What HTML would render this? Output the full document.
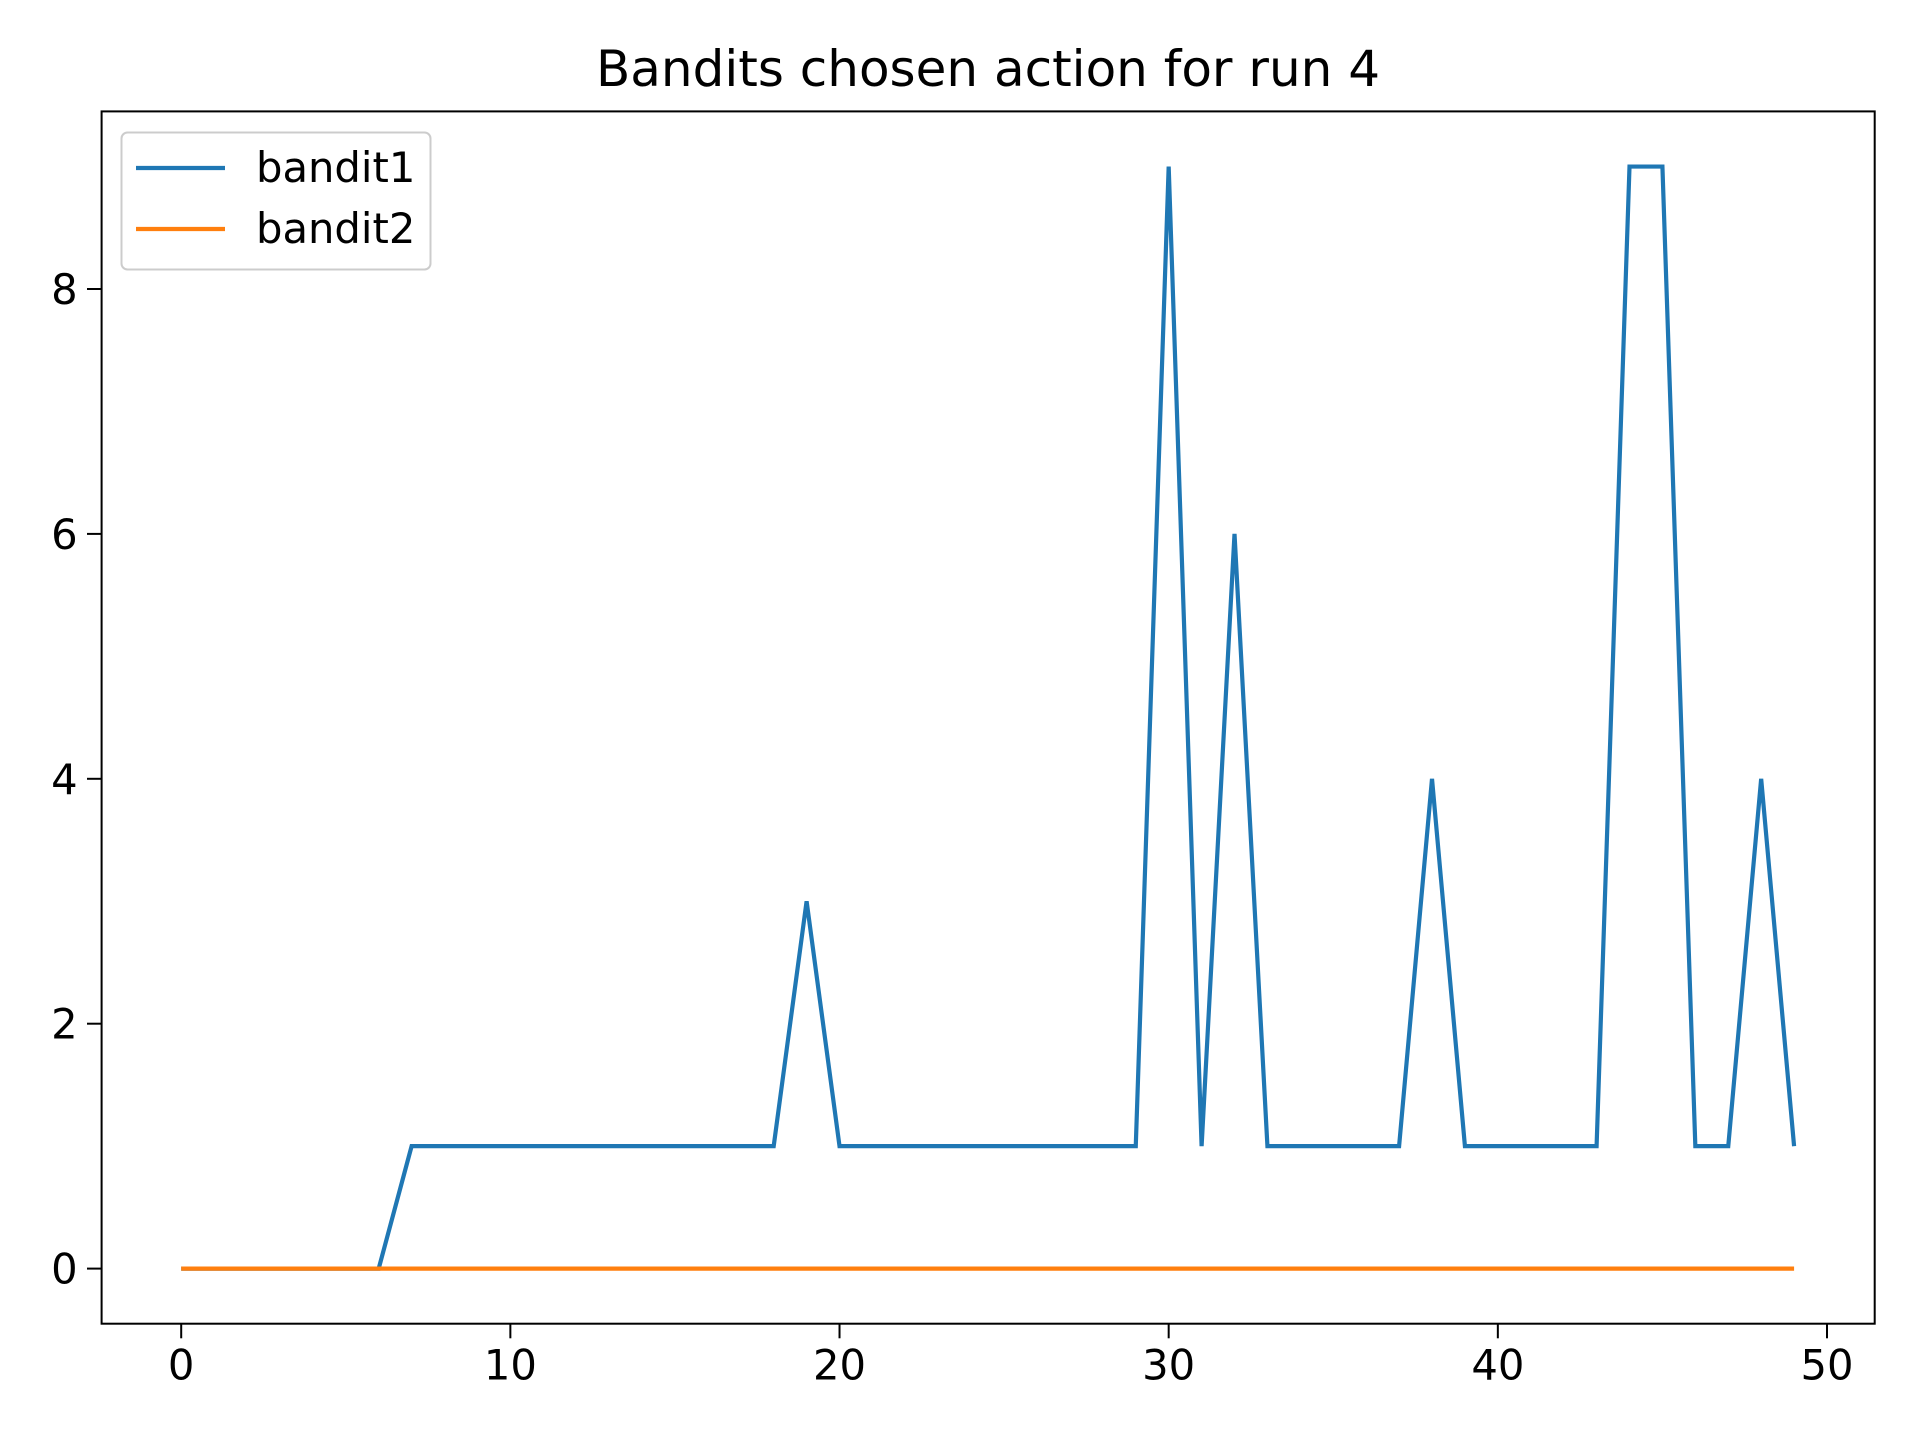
<!DOCTYPE html>
<html><head><meta charset="utf-8"><style>
html,body{margin:0;padding:0;background:#fff;}
svg{display:block;font-family:"DejaVu Sans","Liberation Sans",sans-serif;}
</style></head><body>
<svg id="chart" width="1920" height="1440" viewBox="0 0 1920 1440">
<rect x="0" y="0" width="1920" height="1440" fill="#fff"/>
<text x="988" y="86" font-size="50" text-anchor="middle">Bandits chosen action for run 4</text>
<g id="plot"></g>
</svg>
<script>
const bandit1 = [0,0,0,0,0,0,0,1,1,1,1,1,1,1,1,1,1,1,1,3,1,1,1,1,1,1,1,1,1,1,9,1,6,1,1,1,1,1,4,1,1,1,1,1,9,9,1,1,4,1];
const bandit2 = [0,0,0,0,0,0,0,0,0,0,0,0,0,0,0,0,0,0,0,0,0,0,0,0,0,0,0,0,0,0,0,0,0,0,0,0,0,0,0,0,0,0,0,0,0,0,0,0,0,0];
const xTicks = [0,10,20,30,40,50];
const yTicks = [0,2,4,6,8];
const seriesNames = ["bandit1","bandit2"];

const L=101.6,R=1874.7,T=111.4,B=1323.7;
const x0=181.2,x50=1827,y0=1268.6,y8=289;
const sx=v=>x0+(x50-x0)*v/50;
const sy=v=>y0+(y8-y0)*v/8;
const NS="http://www.w3.org/2000/svg";
const g=document.getElementById('plot');
function mk(tag,attrs){const e=document.createElementNS(NS,tag);for(const k in attrs)e.setAttribute(k,attrs[k]);g.appendChild(e);return e;}

const frame=mk('rect',{x:L,y:T,width:R-L,height:B-T,fill:'none',stroke:'#000','stroke-width':2});



xTicks.forEach(t=>{
  const ln=mk('line',{x1:sx(t),x2:sx(t),y1:B,y2:B+14.6,stroke:'#000','stroke-width':2});
  
  
  const tx=mk('text',{x:sx(t),y:B+56,'font-size':41.7,'text-anchor':'middle'});
  tx.textContent=t;
  
  
});
yTicks.forEach(t=>{
  const ln=mk('line',{x1:L-14.6,x2:L,y1:sy(t),y2:sy(t),stroke:'#000','stroke-width':2});
  
  
  const tx=mk('text',{x:L-24,y:sy(t)+15,'font-size':41.7,'text-anchor':'end'});
  tx.textContent=t;
  
  
});

function line(data,color,name){
  const p=mk('polyline',{points:data.map((v,i)=>sx(i)+','+sy(v)).join(' '),fill:'none',stroke:color,'stroke-width':4.2,'stroke-linejoin':'miter','stroke-linecap':'butt'});
  
  
}
line(bandit1,'#1f77b4','bandit1-line');
line(bandit2,'#ff7f0e','bandit2-line');

const lg=mk('rect',{x:121.5,y:132.5,width:309,height:137,rx:6,fill:'#fff','fill-opacity':0.8,stroke:'#ccc','stroke-width':2});


const colors=['#1f77b4','#ff7f0e'];
seriesNames.forEach((n,i)=>{
  const y=168+i*61;
  const ln=mk('line',{x1:136,x2:225,y1:y,y2:y,stroke:colors[i],'stroke-width':4.2});
  
  
  const tx=mk('text',{x:256,y:y+14,'font-size':41.7});
  tx.textContent=n;
  
  
});
</script>
</body></html>
